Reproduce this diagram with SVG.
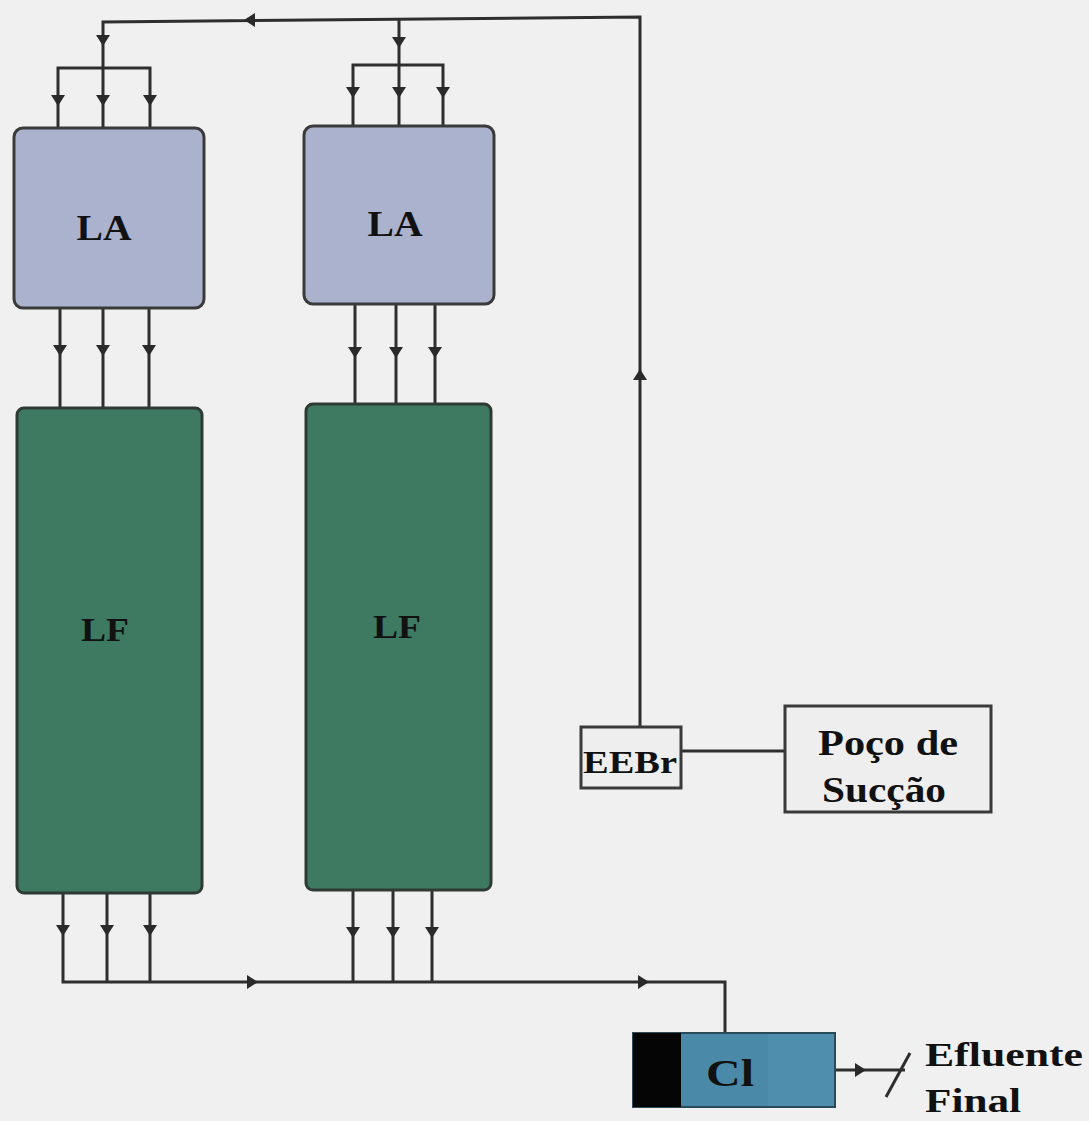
<svg xmlns="http://www.w3.org/2000/svg" xmlns:xlink="http://www.w3.org/1999/xlink" width="1089" height="1121" viewBox="0 0 1089 1121">
<style>
.ln{stroke:#2e2e2e;stroke-width:3;fill:none}
.ah{fill:#2a2a2a}
.la{fill:#aab2cd;stroke:#3a3a3a;stroke-width:3}
.lf{fill:#3e7a62;stroke:#2f3a35;stroke-width:3}
.lbl{font-family:"Liberation Serif","DejaVu Serif",serif;font-weight:bold;fill:#111;text-anchor:middle}
.st{text-anchor:start}
.bx{fill:#eeeeee;stroke:#3a3a3a;stroke-width:3}
</style>
<defs>
<path id="ad" class="ah" d="M-7,-5 L7,-5 L0,6 Z"/>
</defs>
<rect width="1089" height="1121" fill="#f0f0f0"/>
<g id="connectors">
<path class="ln" d="M103,68 L103,22 L640,17 L640,727"/>
<path class="ln" d="M58,128 L58,68 L150,68 L150,128 M103,68 L103,128"/>
<path class="ln" d="M399,20 L399,126 M353,126 L353,65 L443,65 L443,126"/>
<path class="ln" d="M60,308 L60,408 M103,308 L103,408 M149,308 L149,408"/>
<path class="ln" d="M355,304 L355,404 M396,304 L396,404 M435,304 L435,404"/>
<path class="ln" d="M63,893 L63,982 L725,982 L725,1033 M107,893 L107,982 M150,893 L150,982"/>
<path class="ln" d="M353,890 L353,982 M393,890 L393,982 M432,890 L432,982"/>
<path class="ln" d="M681,751 L785,751"/>
<path class="ln" d="M835,1070 L905,1070"/>
<path class="ln" d="M910,1053 L886,1097" stroke-width="4"/>
<use href="#ad" x="103" y="40"/>
<use href="#ad" x="58" y="100"/>
<use href="#ad" x="103" y="100"/>
<use href="#ad" x="150" y="100"/>
<use href="#ad" x="399" y="42"/>
<use href="#ad" x="353" y="92"/>
<use href="#ad" x="399" y="92"/>
<use href="#ad" x="443" y="92"/>
<use href="#ad" x="60" y="350"/>
<use href="#ad" x="103" y="350"/>
<use href="#ad" x="149" y="350"/>
<use href="#ad" x="355" y="352"/>
<use href="#ad" x="396" y="352"/>
<use href="#ad" x="435" y="352"/>
<use href="#ad" x="63" y="930"/>
<use href="#ad" x="107" y="930"/>
<use href="#ad" x="150" y="930"/>
<use href="#ad" x="353" y="932"/>
<use href="#ad" x="393" y="932"/>
<use href="#ad" x="432" y="932"/>
<use href="#ad" transform="translate(250,20) rotate(90)"/>
<use href="#ad" transform="translate(640,375) rotate(180)"/>
<use href="#ad" transform="translate(252,982) rotate(-90)"/>
<use href="#ad" transform="translate(643,982) rotate(-90)"/>
<use href="#ad" transform="translate(860,1070) rotate(-90)"/>
</g>
<g id="la1"><rect class="la" x="14" y="128" width="190" height="180" rx="9"/><text class="lbl" x="104" y="240" font-size="36" textLength="55" lengthAdjust="spacingAndGlyphs">LA</text></g>
<g id="la2"><rect class="la" x="304" y="126" width="190" height="178" rx="9"/><text class="lbl" x="395" y="236" font-size="36" textLength="55" lengthAdjust="spacingAndGlyphs">LA</text></g>
<g id="lf1"><rect class="lf" x="17" y="408" width="185" height="485" rx="7"/><text class="lbl" x="105" y="641" font-size="34" textLength="48" lengthAdjust="spacingAndGlyphs">LF</text></g>
<g id="lf2"><rect class="lf" x="306" y="404" width="185" height="486" rx="7"/><text class="lbl" x="397" y="638" font-size="34" textLength="48" lengthAdjust="spacingAndGlyphs">LF</text></g>
<g id="eebr"><rect class="bx" x="581" y="727" width="100" height="61"/><text class="lbl" x="630" y="773" font-size="32" textLength="94" lengthAdjust="spacingAndGlyphs">EEBr</text></g>
<g id="poco"><rect class="bx" x="785" y="706" width="206" height="106"/><text class="lbl" x="888" y="755" font-size="36" textLength="140" lengthAdjust="spacingAndGlyphs">Poço de</text><text class="lbl" x="884" y="802" font-size="36" textLength="124" lengthAdjust="spacingAndGlyphs">Sucção</text></g>
<g id="cl"><rect x="633" y="1033" width="202" height="74" fill="#4a8aa8" stroke="#2a4a5a" stroke-width="2"/><rect x="633" y="1033" width="48" height="74" fill="#050505"/><rect x="768" y="1034" width="66" height="72" fill="#4f8fad"/><text class="lbl" x="730" y="1086" font-size="38" textLength="48" lengthAdjust="spacingAndGlyphs">Cl</text></g>
<g id="efluente"><text class="lbl st" x="925" y="1066" font-size="34" textLength="158" lengthAdjust="spacingAndGlyphs">Efluente</text><text class="lbl st" x="925" y="1112" font-size="34" textLength="96" lengthAdjust="spacingAndGlyphs">Final</text></g>
</svg>
